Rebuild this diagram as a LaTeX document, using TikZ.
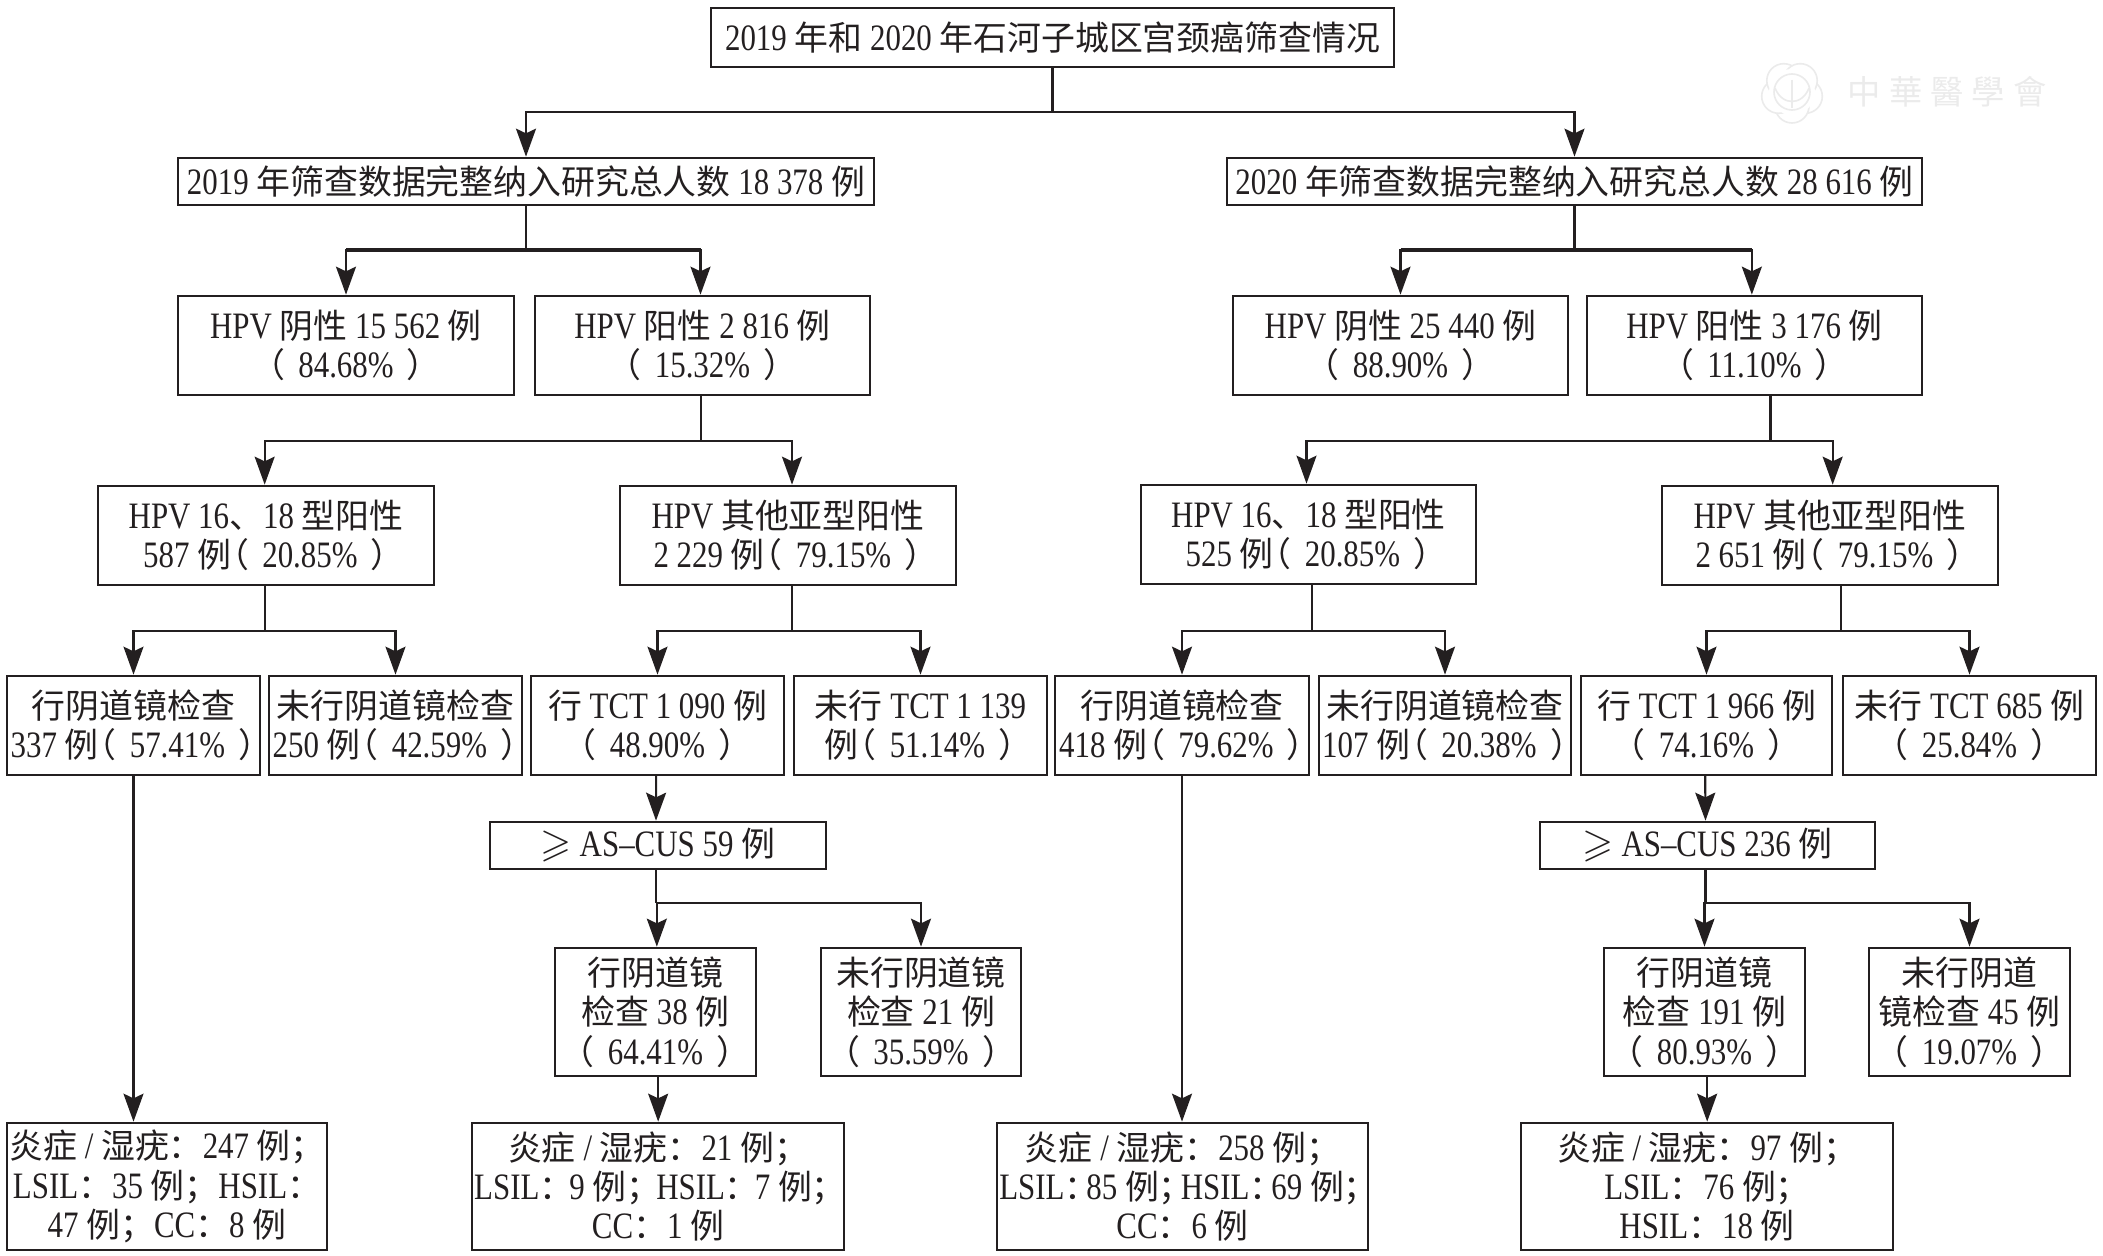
\documentclass[tikz,border=0pt]{standalone}
\usepackage{amssymb}
\usepackage{fontspec}
\usetikzlibrary{arrows.meta,calc}
\setmainfont[FakeStretch=0.83,Scale=1.10]{Liberation Serif}
\newfontfamily\cjkf{Noto Sans CJK SC}
\newcommand\latf{\rmfamily}
\XeTeXinterchartokenstate=1
\newXeTeXintercharclass\cjkclass
\newcount\chtmp
\newcommand\setclassrange[2]{\chtmp=#1 \loop\ifnum\chtmp<#2 \XeTeXcharclass\chtmp=\cjkclass \advance\chtmp by 1 \repeat}
\setclassrange{"3000}{"3040}
\setclassrange{"4E00}{"A000}
\setclassrange{"FF00}{"FFF0}
\XeTeXinterchartoks 0 \cjkclass={\cjkf}
\XeTeXinterchartoks 4095 \cjkclass={\cjkf}
\XeTeXinterchartoks \cjkclass 0={\latf}
\XeTeXinterchartoks \cjkclass 4095={\latf}
\definecolor{ink}{HTML}{231F20}
\definecolor{wm}{HTML}{EBEBEB}
\newcommand\lp{\mbox{\kern-12pt （\kern10pt}}
\newcommand\rp{\mbox{\kern10pt ）\kern-12pt}}
\newcommand\geqmark{{\fontsize{30}{30}\selectfont$\geqslant$}}
\tikzset{
  flowbox/.style={draw=ink,line width=1.8pt,inner sep=0pt,outer sep=0pt,align=center,text=ink,
    font=\fontsize{25.4}{29.5}\selectfont},
  link/.style={draw=ink,line width=1.6pt},
  linkarrow/.style={link,-{Stealth[length=21pt,width=15pt,inset=3.5pt]},shorten >=1pt},
}
% box: name, left, top, right, bottom (pixels), text
\newcommand\bx[6]{\node[flowbox,minimum width={(#4-#2)*0.75pt},minimum height={(#5-#3)*0.75pt}] (#1) at ({(#2+#4)/2},{(#3+#5)/2}) {#6};}
% fork: parent, parent x-shift, junction y, child1, shift1, child2, shift2
\newcommand\fork[7]{%
  \path (0,#3) coordinate (yy);
  \coordinate (j#1) at ([xshift=#2]#1.south |- yy);
  \draw[link] ([xshift=#2]#1.south) -- (j#1);
  \draw[linkarrow] (j#1) -| ([xshift=#5]#4.north);
  \draw[linkarrow] (j#1) -| ([xshift=#7]#6.north);
}
\begin{document}
\begin{tikzpicture}[x=0.75pt,y=-0.75pt]
\useasboundingbox (0,0) rectangle (2103,1256);
% watermark
\begin{scope}[wm,line width=1.2pt]
  \foreach \a in {18,90,162,234,306}{\draw[fill=white] (1792,92)+(\a:14) circle (17);}
  \fill[white] (1792,92) circle (23);
  \draw (1792,92) circle (18);
  \draw (1792,80) -- (1792,108);
  \draw (1775,88) .. controls (1782,106) and (1802,106) .. (1809,88);
\end{scope}
\node[wm,font=\fontsize{25}{27}\selectfont] (mark) at (1947,92) {中\hspace{6pt}華\hspace{6pt}醫\hspace{6pt}學\hspace{6pt}會};
% level 0-1
\bx{title}{711}{8}{1394}{67}{2019 年和 2020 年石河子城区宫颈癌筛查情况}
\bx{a}{178}{158}{874}{205}{2019 年筛查数据完整纳入研究总人数 18 378 例}
\bx{b}{1227}{158}{1922}{205}{2020 年筛查数据完整纳入研究总人数 28 616 例}
% level 2
\bx{an}{178}{296}{514}{395}{HPV 阴性 15 562 例\\\lp 84.68\%\rp}
\bx{ap}{535}{296}{870}{395}{HPV 阳性 2 816 例\\\lp 15.32\%\rp}
\bx{bn}{1233}{296}{1568}{395}{HPV 阴性 25 440 例\\\lp 88.90\%\rp}
\bx{bp}{1587}{296}{1922}{395}{HPV 阳性 3 176 例\\\lp 11.10\%\rp}
% level 3
\bx{ah}{98}{486}{434}{585}{HPV 16、18 型阳性\\587 例\lp 20.85\%\rp}
\bx{ao}{620}{486}{956}{585}{HPV 其他亚型阳性\\2 229 例\lp 79.15\%\rp}
\bx{bh}{1141}{485}{1476}{584}{HPV 16、18 型阳性\\525 例\lp 20.85\%\rp}
\bx{bo}{1662}{486}{1998}{585}{HPV 其他亚型阳性\\2 651 例\lp 79.15\%\rp}
% level 4
\bx{a1}{7}{676}{260}{775}{行阴道镜检查\\337 例\lp 57.41\%\rp}
\bx{a2}{269}{676}{522}{775}{未行阴道镜检查\\250 例\lp 42.59\%\rp}
\bx{a3}{531}{676}{784}{775}{行 TCT 1 090 例\\\lp 48.90\%\rp}
\bx{a4}{794}{676}{1047}{775}{未行 TCT 1 139\\例\lp 51.14\%\rp}
\bx{b1}{1055}{676}{1309}{775}{行阴道镜检查\\418 例\lp 79.62\%\rp}
\bx{b2}{1319}{676}{1571}{775}{未行阴道镜检查\\107 例\lp 20.38\%\rp}
\bx{b3}{1581}{676}{1832}{775}{行 TCT 1 966 例\\\lp 74.16\%\rp}
\bx{b4}{1843}{676}{2096}{775}{未行 TCT 685 例\\\lp 25.84\%\rp}
% level 5
\bx{as}{490}{822}{826}{869}{\geqmark\ AS–CUS 59 例}
\bx{bs}{1540}{822}{1875}{869}{\geqmark\ AS–CUS 236 例}
% level 6
\bx{ac}{555}{948}{756}{1076}{行阴道镜\\检查 38 例\\\lp 64.41\%\rp}
\bx{ad}{821}{948}{1021}{1076}{未行阴道镜\\检查 21 例\\\lp 35.59\%\rp}
\bx{bc}{1604}{948}{1805}{1076}{行阴道镜\\检查 191 例\\\lp 80.93\%\rp}
\bx{bd}{1869}{948}{2070}{1076}{未行阴道\\镜检查 45 例\\\lp 19.07\%\rp}
% level 7
\bx{r1}{7}{1123}{327}{1250}{炎症 / 湿疣：247 例；\\LSIL：35 例；HSIL：\\47 例；CC：8 例}
\bx{r2}{472}{1123}{844}{1250}{炎症 / 湿疣：21 例；\\LSIL：\kern-3pt 9 例；\kern-3pt HSIL：\kern-3pt 7 例；\kern-3pt\\CC：1 例}
\bx{r3}{997}{1123}{1368}{1250}{炎症 / 湿疣：258 例；\\LSIL：\kern-9pt 85 例；\kern-9pt HSIL：\kern-9pt 69 例；\kern-9pt\\CC：6 例}
\bx{r4}{1521}{1123}{1893}{1250}{炎症 / 湿疣：97 例；\\LSIL：76 例；\\HSIL：18 例}
% connectors
\fork{title}{0pt}{112}{a}{0pt}{b}{0pt}
\fork{a}{0pt}{250}{an}{0pt}{ap}{-1.5pt}
\fork{b}{0pt}{250}{bn}{0pt}{bp}{-2pt}
\draw[link,line width=2.4pt] (an.north |- ja) -- ([xshift=-1.5pt]ap.north |- ja);
\draw[link,line width=2.4pt] (bn.north |- jb) -- ([xshift=-2pt]bp.north |- jb);
\fork{ap}{-1pt}{441}{ah}{-1pt}{ao}{3pt}
\fork{bp}{12pt}{441}{bh}{-1.5pt}{bo}{2pt}
\fork{ah}{-1pt}{631}{a1}{0pt}{a2}{0pt}
\fork{ao}{3pt}{631}{a3}{0pt}{a4}{0pt}
\fork{bh}{2.5pt}{631}{b1}{0pt}{b2}{0pt}
\fork{bo}{8pt}{631}{b3}{0pt}{b4}{0pt}
\draw[linkarrow] ([xshift=-1pt]a3.south) -- ([xshift=-1.5pt]as.north);
\draw[linkarrow] ([xshift=-1pt]b3.south) -- ([xshift=-1.5pt]bs.north);
\fork{as}{-1.5pt}{903}{ac}{1pt}{ad}{0pt}
\fork{bs}{-1.5pt}{903}{bc}{0pt}{bd}{0pt}
\draw[linkarrow] (a1.south) -- (a1.south |- r1.north);
\draw[linkarrow] (b1.south) -- (b1.south |- r3.north);
\draw[linkarrow] ([xshift=2pt]ac.south) -- ([xshift=2pt]ac.south |- r2.north);
\draw[linkarrow] ([xshift=2pt]bc.south) -- ([xshift=2pt]bc.south |- r4.north);
\end{tikzpicture}
\end{document}
